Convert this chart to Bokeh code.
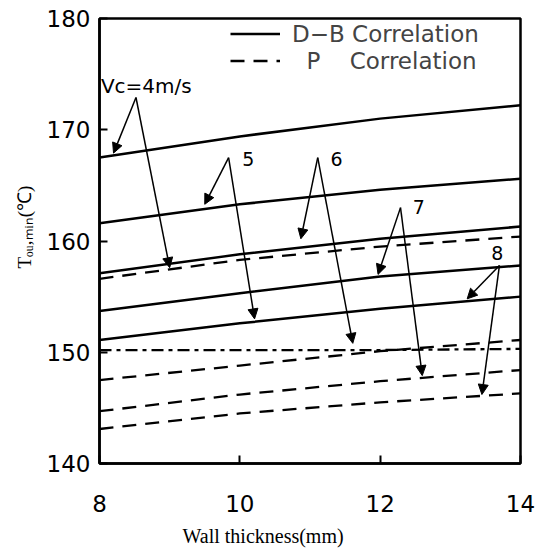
import math
from bokeh.plotting import figure
from bokeh.models import (Range1d, FixedTicker, Arrow, NormalHead, Label, Legend, LegendItem, Title)
from bokeh.embed import file_html
from bokeh.resources import INLINE

# ---- data ----
thickness = [8, 10, 12, 14]
velocities = [4, 5, 6, 7, 8]
db_corr = {
    4: [167.5, 169.4, 171.0, 172.2],
    5: [161.6, 163.3, 164.6, 165.6],
    6: [157.1, 158.8, 160.2, 161.3],
    7: [153.7, 155.3, 156.8, 157.8],
    8: [151.1, 152.6, 153.9, 155.0],
}
p_corr = {
    4: [156.6, 158.3, 159.5, 160.4],
    5: [150.2, 150.2, 150.2, 150.3],
    6: [147.5, 148.8, 150.1, 151.1],
    7: [144.7, 146.2, 147.4, 148.4],
    8: [143.1, 144.5, 145.5, 146.3],
}
x_ticks = [8, 10, 12, 14]
y_ticks = [140, 150, 160, 170, 180]

# annotation arrows: (label apex) -> (tip)
arrow_x0 = [8.52, 8.52, 9.84, 9.84, 11.11, 11.11, 12.29, 12.29, 13.70, 13.70]
arrow_y0 = [172.9, 172.9, 167.5, 167.5, 167.5, 167.5, 163.0, 163.0, 157.8, 157.8]
arrow_x1 = [8.20, 9.00, 9.50, 10.21, 10.87, 11.61, 11.97, 12.60, 13.24, 13.45]
arrow_y1 = [167.9, 157.6, 163.3, 153.0, 160.2, 150.8, 157.0, 147.9, 154.8, 146.2]
note_text = ["Vc=4m/s", "5", "6", "7", "8"]
note_x = [8.02, 10.12, 11.38, 12.55, 13.67]
note_y = [173.9, 167.4, 167.4, 163.1, 158.9]
note_align = ["left", "center", "center", "center", "center"]
note_size = ["20px", "19px", "19px", "19px", "19px"]

x_title = "Wall thickness(mm)"
y_title = "T\u2092\u1d64,\u2098\u1d62\u2099(\u2103)"

p = figure(width=538, height=556, output_backend="svg", toolbar_location=None,
           x_range=Range1d(8, 14), y_range=Range1d(140, 180),
           min_border_left=99, min_border_right=18, min_border_top=18, min_border_bottom=93)
p.background_fill_color = "white"
p.border_fill_color = "white"
p.grid.visible = False
p.outline_line_color = "black"
p.outline_line_width = 2.5

for ax in (p.xaxis[0], p.yaxis[0]):
    ax.axis_line_width = 2.5
    ax.axis_line_color = "black"
    ax.major_tick_in = 8
    ax.major_tick_out = 0
    ax.major_tick_line_width = 2
    ax.minor_tick_line_color = None
    ax.major_label_text_font = "DejaVu Sans"
    ax.major_label_text_font_size = "23px"
    ax.major_label_text_color = "black"
p.xaxis[0].ticker = FixedTicker(ticks=x_ticks)
p.yaxis[0].ticker = FixedTicker(ticks=y_ticks)
p.xaxis[0].major_label_standoff = 31
p.yaxis[0].major_label_standoff = 9

solid_renderers = []
dash_renderers = []
for v in velocities:
    r = p.line(thickness, db_corr[v], line_color="black", line_width=2.5)
    solid_renderers.append(r)
for v in velocities:
    dash = "12 5 4 5" if v == 5 else "14 9"
    r = p.line(thickness, p_corr[v], line_color="black", line_width=2.3, line_dash=dash)
    dash_renderers.append(r)

for xs, ys, xe, ye in zip(arrow_x0, arrow_y0, arrow_x1, arrow_y1):
    p.add_layout(Arrow(x_start=xs, y_start=ys, x_end=xe, y_end=ye, line_width=1.5,
                       line_color="black",
                       end=NormalHead(size=10, fill_color="black", line_color="black")))

for t, x, y, al, sz in zip(note_text, note_x, note_y, note_align, note_size):
    p.add_layout(Label(x=x, y=y, text=t, text_align=al, text_baseline="middle",
                       text_font="DejaVu Sans", text_font_size=sz, text_color="black"))

legend = Legend(items=[LegendItem(label="D\u2212B Correlation", renderers=[solid_renderers[0]]),
                       LegendItem(label="\u00a0\u00a0P\u00a0\u00a0\u00a0\u00a0Correlation",
                                  renderers=[dash_renderers[0]])],
                location=(131, 389), padding=0, margin=0, spacing=0,
                glyph_width=50, glyph_height=27, label_height=27, label_standoff=12,
                label_text_font="DejaVu Sans", label_text_font_size="23px",
                background_fill_alpha=0, border_line_alpha=0)
p.add_layout(legend)

# axis titles
p.add_layout(Title(text=x_title, align="left", offset=83, standoff=16,
                   text_font="Liberation Serif", text_font_size="20px",
                   text_font_style="normal", text_color="black"), "below")
p.add_layout(Title(text=y_title, align="left", offset=195, standoff=18,
                   text_font="Liberation Serif", text_font_size="19px",
                   text_font_style="normal", text_color="black"), "left")

open("out.html", "w").write(file_html(p, INLINE))
